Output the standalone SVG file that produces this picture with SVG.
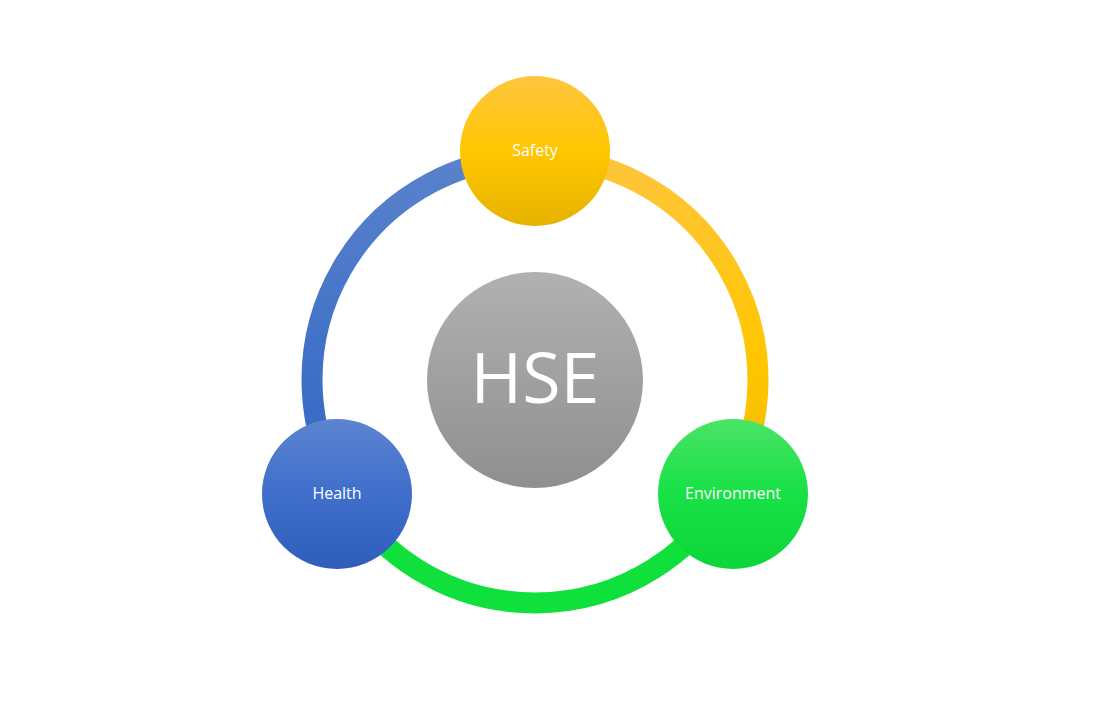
<svg xmlns="http://www.w3.org/2000/svg" width="1104" height="716" viewBox="0 0 1104 716">
<defs>
<style>
.lbl{font-family:"Open Sans","Noto Sans","Liberation Sans",sans-serif;fill:#ffffff;text-anchor:middle;dominant-baseline:central}
.arc{fill:none;stroke-width:21}
</style>
<linearGradient id="gBlueArc" gradientUnits="userSpaceOnUse" x1="0" y1="157" x2="0" y2="492"><stop offset="0" stop-color="#5a82cc"/><stop offset="1" stop-color="#2f66c4"/></linearGradient>
<linearGradient id="gYelArc" gradientUnits="userSpaceOnUse" x1="0" y1="157" x2="0" y2="492"><stop offset="0" stop-color="#ffc53c"/><stop offset="0.6" stop-color="#ffc600"/><stop offset="1" stop-color="#f0bb00"/></linearGradient>
<linearGradient id="gSafety" x1="0" y1="0" x2="0" y2="1"><stop offset="0" stop-color="#ffc640"/><stop offset="0.5" stop-color="#ffc600"/><stop offset="1" stop-color="#e6b300"/></linearGradient>
<linearGradient id="gHealth" x1="0" y1="0" x2="0" y2="1"><stop offset="0" stop-color="#5c84cf"/><stop offset="0.5" stop-color="#3f6fcb"/><stop offset="1" stop-color="#2e5dba"/></linearGradient>
<linearGradient id="gEnv" x1="0" y1="0" x2="0" y2="1"><stop offset="0" stop-color="#4ae466"/><stop offset="0.5" stop-color="#17e146"/><stop offset="1" stop-color="#0cd637"/></linearGradient>
<linearGradient id="gHSE" x1="0" y1="0" x2="0" y2="1"><stop offset="0" stop-color="#b1b1b1"/><stop offset="1" stop-color="#8f8f8f"/></linearGradient>
</defs>
<rect width="1104" height="716" fill="#ffffff"/>
<g id="connectors">
<path class="arc" stroke="url(#gBlueArc)" d="M 341.9 491.5 A 223 223 0 0 1 535 157"/>
<path class="arc" stroke="url(#gYelArc)" d="M 535 157 A 223 223 0 0 1 728.1 491.5"/>
<path class="arc" stroke="#10e03c" d="M 728.1 491.5 A 223 223 0 0 1 341.9 491.5"/>
</g>
<g id="hse">
<circle cx="535" cy="380" r="108" fill="url(#gHSE)"/>
<text class="lbl" x="535" y="376" font-size="70">HSE</text>
</g>
<g id="safety">
<circle cx="535" cy="151" r="75" fill="url(#gSafety)"/>
<text class="lbl" x="535" y="150" font-size="16">Safety</text>
</g>
<g id="health">
<circle cx="337" cy="494" r="75" fill="url(#gHealth)"/>
<text class="lbl" x="337" y="493" font-size="16">Health</text>
</g>
<g id="environment">
<circle cx="733" cy="494" r="75" fill="url(#gEnv)"/>
<text class="lbl" x="733" y="493" font-size="16">Environment</text>
</g>
</svg>
